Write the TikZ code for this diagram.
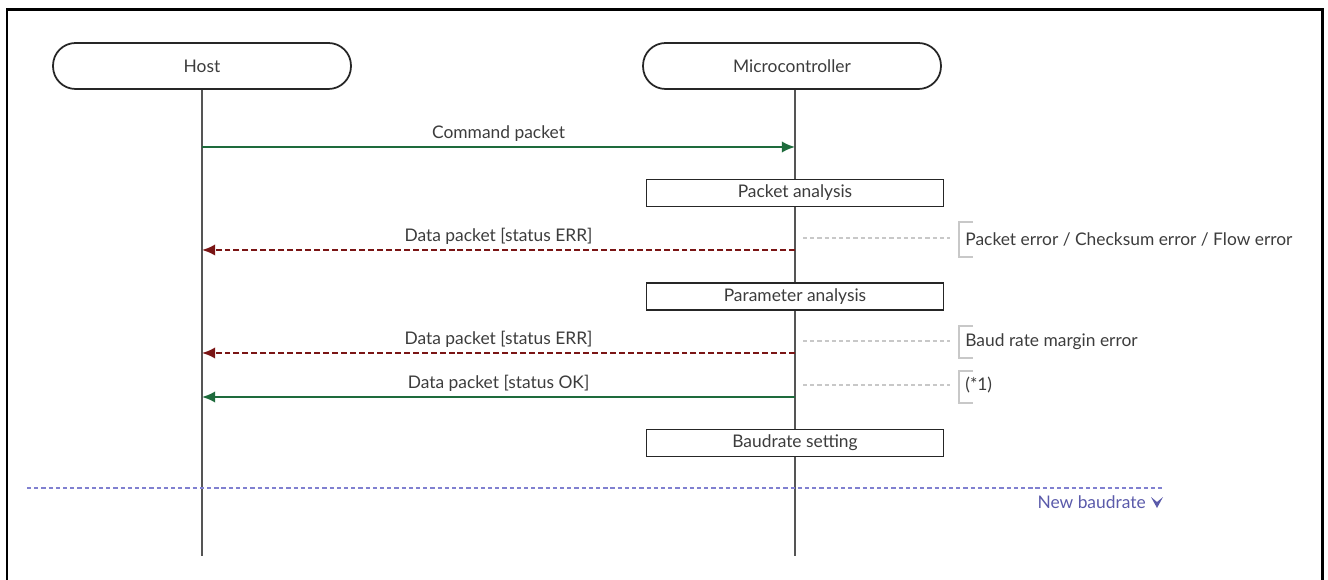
\documentclass[tikz,border=0pt]{standalone}
\usepackage{fontspec}
\setmainfont{Lato}
\usepackage{xcolor}
\usepackage{tikz}
\usetikzlibrary{arrows.meta,positioning}
\definecolor{okgreen}{HTML}{1E6B3C}
\definecolor{errred}{HTML}{7A1515}
\definecolor{lifegray}{HTML}{555555}
\definecolor{txtgray}{HTML}{3C3C3C}
\definecolor{notegray}{HTML}{C8C8C8}
\definecolor{baudblue}{HTML}{8080D0}
\definecolor{baudtext}{HTML}{5A5AAA}
\tikzstyle{actor} = [draw=black!85, line width=1pt, rounded corners=0.45cm, fill=white, minimum width=5.96cm, minimum height=0.92cm, text=txtgray]
\tikzstyle{task} = [draw=black!85, line width=1pt, fill=white, minimum width=5.94cm, minimum height=0.54cm, inner sep=0pt, text=txtgray]
\tikzstyle{lifeline} = [draw=lifegray, line width=1.1pt]
\tikzstyle{okmsg} = [draw=okgreen, line width=1.2pt, -{Latex[length=7.5pt,width=6.5pt]}]
\tikzstyle{errmsg} = [draw=errred, line width=1.2pt, dash pattern=on 3.4pt off 1.7pt, -{Latex[length=7.5pt,width=6.5pt]}]
\tikzstyle{msglabel} = [above=-1pt, text=txtgray]
\tikzstyle{notedash} = [draw=notegray, line width=0.6pt, dash pattern=on 2.4pt off 1.7pt]
\tikzstyle{bracket} = [draw=notegray, line width=0.7pt]
\tikzstyle{note} = [anchor=west, inner sep=0pt, text=txtgray]

\begin{document}
\begin{tikzpicture}[x=0.02cm, y=-0.02cm, font=\fontsize{9.9pt}{11.5pt}\selectfont]
  \useasboundingbox (0,0) rectangle (1328,580);
  %\draw[help lines,step=50] (0,0) grid (1328,580); %Hilfsgitter

  \draw[line width=1.7pt] (7,580) -- (7,10) -- (1322,10) -- (1322,580); % frame

  % lifelines
  \coordinate (hostend) at (202,556);
  \coordinate (mcuend) at (795,556);
  \draw[lifeline] (202,89) -- (hostend);
  \draw[lifeline] (795,89) -- (mcuend);

  \node[actor] (host) at (202,66) {Host};
  \node[actor] (mcu) at (792,66) {Microcontroller};

  % command
  \coordinate (h1) at (202,147); \coordinate (m1) at (795,147);
  \draw[okmsg] (h1) -- node[msglabel] (cmd) {Command packet} (m1);

  \node[task] (pana) at (795,193) {Packet analysis};

  % error after packet analysis
  \coordinate (h2) at (202,250); \coordinate (m2) at (795,250);
  \draw[errmsg] (m2) -- node[msglabel] (err1) {Data packet [status ERR]} (h2);
  \draw[notedash] (803,238) -- (950,238);
  \draw[bracket] (973,222) -- (959,222) -- (959,257) -- (973,257);
  \node[note] (n1) at (965,239) {Packet error / Checksum error / Flow error};

  \node[task] (parana) at (795,296.5) {Parameter analysis};

  % error after parameter analysis
  \coordinate (h3) at (202,353); \coordinate (m3) at (795,353);
  \draw[errmsg] (m3) -- node[msglabel] (err2) {Data packet [status ERR]} (h3);
  \draw[notedash] (803,341) -- (950,341);
  \draw[bracket] (973,326) -- (959,326) -- (959,358) -- (973,358);
  \node[note] (n2) at (965,342) {Baud rate margin error};

  % ok
  \coordinate (h4) at (202,397); \coordinate (m4) at (795,397);
  \draw[okmsg] (m4) -- node[msglabel] (ok) {Data packet [status OK]} (h4);
  \draw[notedash] (803,385) -- (950,385);
  \draw[bracket] (973,371) -- (959,371) -- (959,403) -- (973,403);
  \node[note] (n3) at (965,385) {(*1)};

  \node[task] (bset) at (795,443) {Baudrate setting};

  % new baudrate
  \draw[draw=baudblue, line width=0.8pt, dash pattern=on 2.4pt off 1.7pt] (27,488) -- (1164,488);
  \node[anchor=east, inner sep=0pt, text=baudtext] (nb) at (1146,502) {New baudrate};
  \fill[baudtext] (1151,497) -- (1157,502) -- (1163,497) -- (1157,508) -- cycle; % chevron
\end{tikzpicture}
\end{document}
